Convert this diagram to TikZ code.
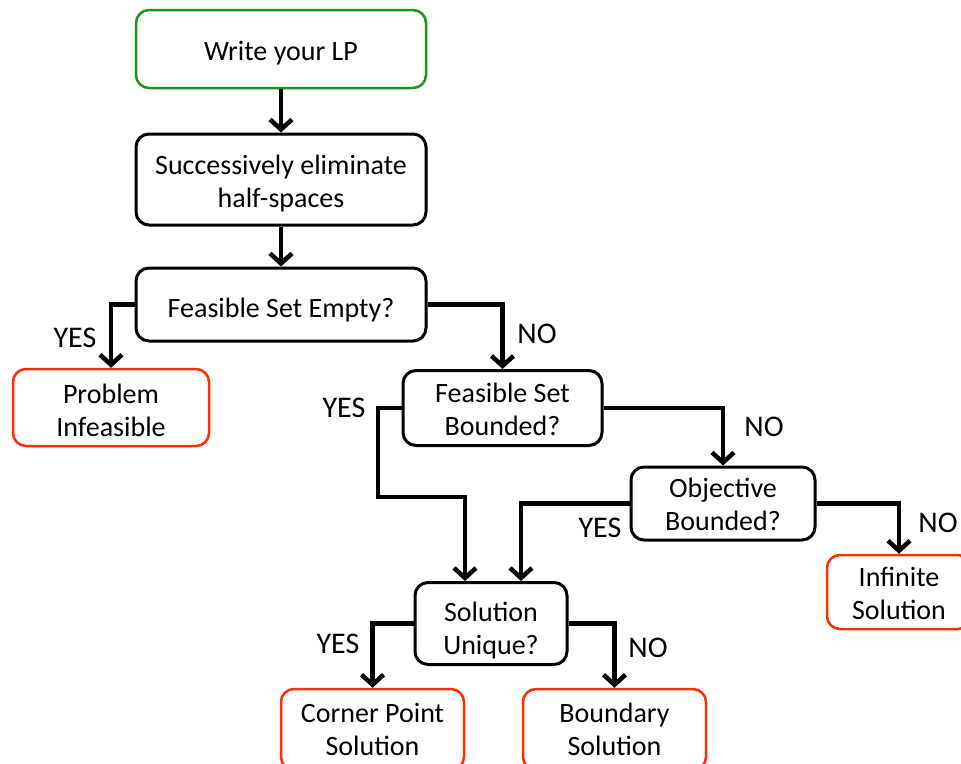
\documentclass[tikz,border=0pt]{standalone}
\usepackage{fontspec}
\setmainfont{Carlito}
\usetikzlibrary{arrows.meta}
\definecolor{startgreen}{RGB}{25,150,25}
\definecolor{endred}{RGB}{255,45,0}
\newcommand{\boxtext}[2][8pt]{\raisebox{0pt}[\dimexpr\height+#1\relax][\depth]{\begin{tabular}{@{}c@{}}#2\end{tabular}}}
\tikzset{
  box/.style={draw=black, line width=3pt, rounded corners=13pt, inner sep=0pt, align=center,
    font=\fontsize{28}{33}\selectfont},
  startbox/.style={box, draw=startgreen, line width=2.5pt},
  endbox/.style={box, draw=endred, line width=2.5pt},
  conn/.style={line width=4.5pt, -{Straight Barb[length=10pt,width=22pt]}},
  lbl/.style={inner sep=0pt, font=\fontsize{30}{34}\selectfont}
}
\begin{document}
\begin{tikzpicture}[x=1pt,y=-1pt]
\useasboundingbox (0,0) rectangle (961,763);
\clip (0,0) rectangle (961,763);
% boxes
\node[startbox, minimum width=290pt, minimum height=78pt] (W) at (281,49) {\boxtext[9pt]{Write your LP}};
\node[box, minimum width=290pt, minimum height=91pt] (S) at (281,179.5) {\boxtext[10pt]{Successively eliminate\\half-spaces}};
\node[box, minimum width=290pt, minimum height=73pt] (E) at (281,304.5) {\boxtext[12pt]{Feasible Set Empty?}};
\node[endbox, minimum width=196pt, minimum height=73pt] (P) at (111,407.5) {\boxtext[11pt]{Problem\\Infeasible}};
\node[box, minimum width=199pt, minimum height=70pt] (FB) at (502.5,408) {\boxtext[9pt]{Feasible Set\\Bounded?}};
\node[box, minimum width=184pt, minimum height=71pt] (OB) at (723,503.5) {\boxtext[7pt]{Objective\\Bounded?}};
\node[endbox, minimum width=144pt, minimum height=72pt] (IS) at (899,592) {\boxtext[8pt]{Infinite\\Solution}};
\node[box, minimum width=152pt, minimum height=73pt] (SU) at (491,623.5) {\boxtext[16pt]{Solution\\Unique?}};
\node[endbox, minimum width=183pt, minimum height=81pt] (CP) at (372.5,729.5) {\boxtext[6pt]{Corner Point\\Solution}};
\node[endbox, minimum width=183pt, minimum height=81pt] (BS) at (614.5,729.5) {\boxtext[6pt]{Boundary\\Solution}};
% junction coordinates
\coordinate (fbj) at (378,497);
% connectors
\draw[conn] (W.south) -- (S.north);
\draw[conn] (S.south) -- (E.north);
\draw[conn] (E.west) -| (P.north);
\draw[conn] (E.east) -| (FB.north);
\draw[conn] (FB.west) -| (fbj) -| ([xshift=-26pt]SU.north);
\draw[conn] (FB.east) -| (OB.north);
\draw[conn] (OB.west) -| ([xshift=30pt]SU.north);
\draw[conn] (OB.east) -| (IS.north);
\draw[conn] (SU.west) -| (CP.north);
\draw[conn] (SU.east) -| (BS.north);
% labels
\node[lbl] (l1) at (75,338) {YES};
\node[lbl] (l2) at (537,334) {NO};
\node[lbl] (l3) at (344,408) {YES};
\node[lbl] (l4) at (764,427) {NO};
\node[lbl] (l5) at (600,528) {YES};
\node[lbl] (l6) at (938,523) {NO};
\node[lbl] (l7) at (338,644) {YES};
\node[lbl] (l8) at (648,648) {NO};
\end{tikzpicture}
\end{document}
